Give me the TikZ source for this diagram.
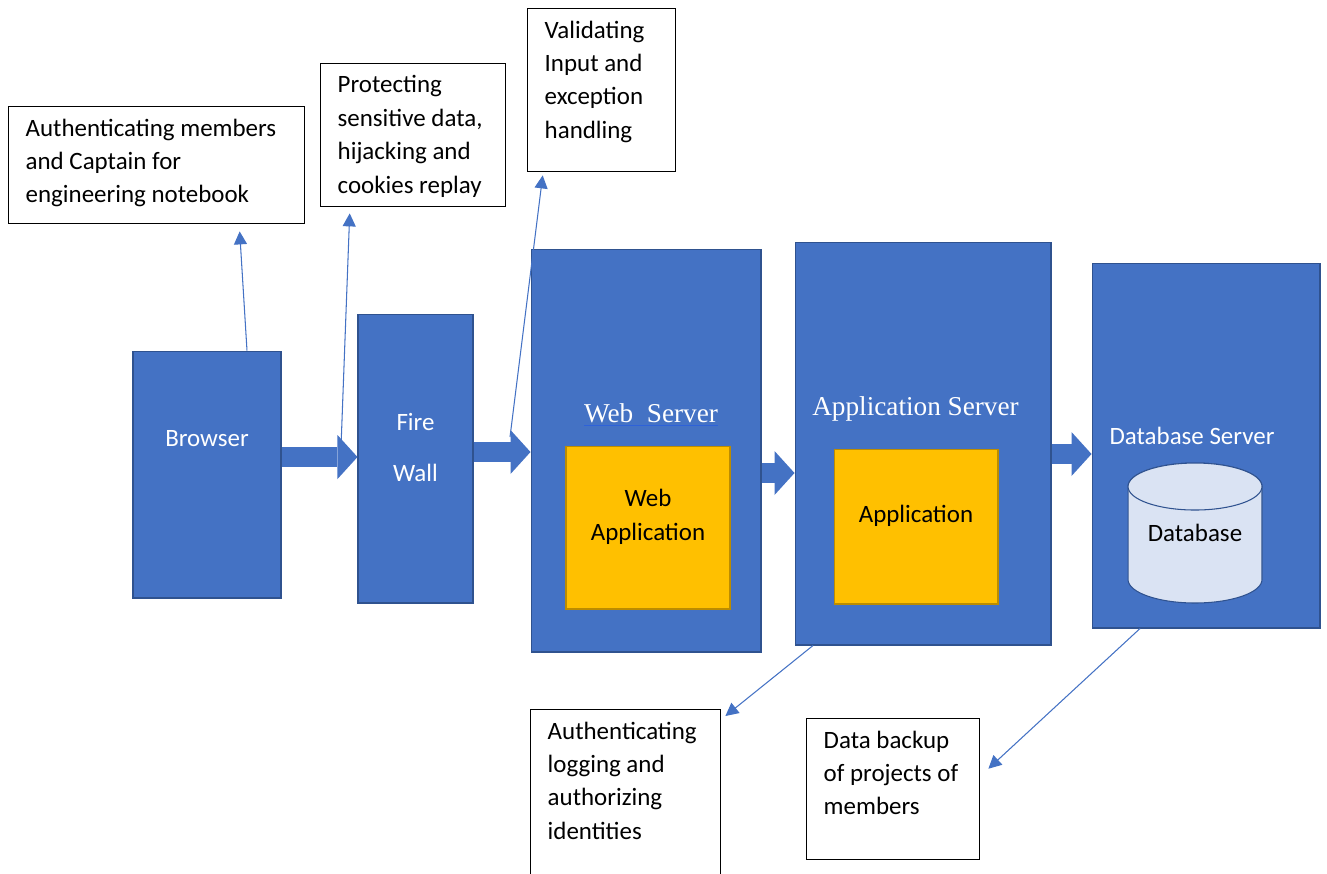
\documentclass[tikz,border=0pt]{standalone}
\usepackage{fontspec}
\setmainfont{Carlito}
\newfontfamily\titlefont{Liberation Serif}
\usetikzlibrary{arrows.meta}

\definecolor{boxblue}{HTML}{4472C4}
\definecolor{edgeblue}{HTML}{2F528F}
\definecolor{appyellow}{HTML}{FFC000}
\definecolor{edgeyellow}{HTML}{BC8C00}
\definecolor{dbfill}{HTML}{DAE3F3}
\definecolor{linkblue}{HTML}{2E62D9}

\newcommand{\notetext}[3]{\parbox[c][#2][t]{#1}{\raggedright #3}}

\tikzset{
  server/.style={draw=edgeblue, fill=boxblue, line width=0.6pt, inner sep=0pt},
  module/.style={draw=edgeyellow, fill=appyellow, line width=0.6pt, inner sep=0pt},
  drum/.style={draw=edgeblue, fill=dbfill, line width=0.6pt},
  note/.style={draw=black, line width=0.8pt, anchor=north west,
    inner xsep=0.34cm, inner ysep=0.24cm, font=\fontsize{14.2}{19}\selectfont},
  caption/.style={font=\fontsize{14.2}{19}\selectfont, align=center},
  title/.style={text=white, font=\titlefont\fontsize{15.5}{18}\selectfont},
  flow/.style={draw=boxblue, line width=0.4cm,
    -{Triangle[length=0.4cm,width=0.88cm,line width=0pt]}},
  hint/.style={draw=boxblue, line width=0.6pt,
    -{Triangle[length=0.26cm,width=0.26cm]}},
}

\begin{document}
\begin{tikzpicture}[x=0.02cm,y=-0.02cm]
  \useasboundingbox (0,0) rectangle (1327,873);

  % the chain of servers
  \node[server, minimum width=2.96cm, minimum height=4.94cm,
    label={[caption, text=white, yshift=0.71cm]center:Browser}] (browser) at (207,474.5) {};
  \node[server, minimum width=2.30cm, minimum height=5.78cm,
    label={[caption, text=white, font=\fontsize{14.2}{29}\selectfont, yshift=0.22cm]center:Fire\\Wall}] (firewall) at (415.5,458.5) {};
  \node[server, minimum width=4.60cm, minimum height=8.06cm,
    label={[title, xshift=0.1cm, yshift=0.71cm]center:\textcolor{linkblue}{\underline{\textcolor{white}{Web\ \ Server}}}}] (webserver) at (646,450.5) {};
  \node[server, minimum width=5.12cm, minimum height=8.06cm,
    label={[title, xshift=-0.15cm, yshift=0.69cm]center:Application Server}] (appserver) at (923,443.5) {};
  \node[server, minimum width=4.56cm, minimum height=7.30cm,
    label={[caption, text=white, xshift=-0.28cm, yshift=0.19cm]center:Database Server}] (dbserver) at (1206,445.5) {};

  % what runs inside them
  \node[module, minimum width=3.28cm, minimum height=3.26cm,
    label={[caption, yshift=0.21cm]center:Web\\Application}] (webapp) at (648,527.5) {};
  \node[module, minimum width=3.28cm, minimum height=3.10cm,
    label={[caption, yshift=0.21cm]center:Application}] (application) at (916,526.5) {};

  % database drum
  \coordinate (dbcenter) at (1195,533);
  \draw[drum] ([shift={(-1.34cm,0.93cm)}]dbcenter) -- ++(0,-1.86cm)
    arc[start angle=180, end angle=360, x radius=1.34cm, y radius=0.47cm]
    -- ++(0,1.86cm)
    arc[start angle=0, end angle=180, x radius=1.34cm, y radius=0.47cm] -- cycle;
  \draw[drum] ([yshift=0.93cm]dbcenter) ellipse [x radius=1.34cm, y radius=0.47cm];
  \node[caption] (database) at (dbcenter) {Database};

  % request flow
  \draw[flow] (browser.east |- 0,457) -- (firewall.west |- 0,457);
  \draw[flow] (firewall.east |- 0,452) -- (webserver.west |- 0,452);
  \draw[flow] (webserver.east |- 0,473) -- (appserver.west |- 0,473);
  \draw[flow] (appserver.east |- 0,454) -- (dbserver.west |- 0,454);

  % security notes
  \node[note] (auth) at (8,106)
    {\notetext{5.24cm}{1.86cm}{Authenticating members\\and Captain for\\engineering notebook}};
  \node[note] (protect) at (320,63)
    {\notetext{3.02cm}{2.38cm}{Protecting\\sensitive data,\\hijacking and\\cookies replay}};
  \node[note] (validate) at (527,8)
    {\notetext{2.28cm}{2.78cm}{Validating\\Input and\\exception\\handling}};
  \node[note] (logging) at (530,709)
    {\notetext{3.12cm}{2.92cm}{Authenticating\\logging and\\authorizing\\identities}};
  \node[note] (backup) at (806,718)
    {\notetext{2.78cm}{2.34cm}{Data backup\\of projects of\\members}};

  \coordinate (fwfoot) at (341,447);
  \coordinate (webfoot) at (510,437);

  \draw[hint] ([xshift=0.8cm]browser.north) -- ([xshift=1.66cm,yshift=-0.14cm]auth.south);
  \draw[hint] (fwfoot) -- ([xshift=-1.27cm,yshift=-0.12cm]protect.south);
  \draw[hint] (webfoot) -- ([xshift=-1.18cm,yshift=-0.06cm]validate.south);
  \draw[hint] ([xshift=-2.2cm]appserver.south) -- ([xshift=0.08cm,yshift=-0.14cm]logging.north east);
  \draw[hint] ([xshift=-1.32cm]dbserver.south) -- ([xshift=0.16cm,yshift=0.41cm]backup.east);
\end{tikzpicture}
\end{document}
